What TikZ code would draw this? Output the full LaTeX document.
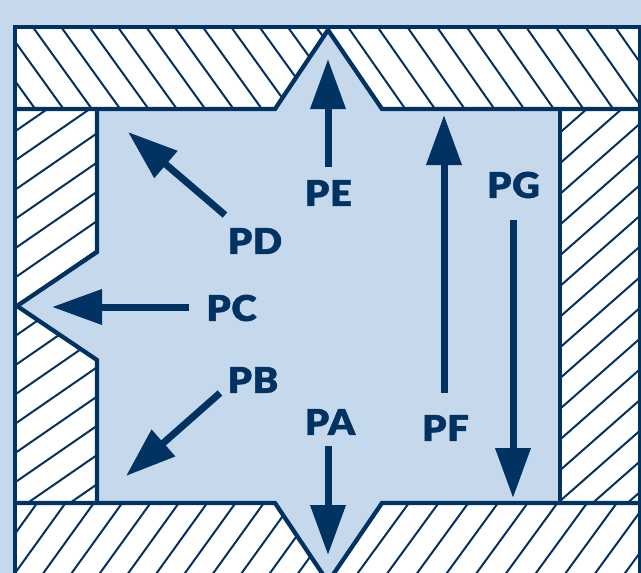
\documentclass[tikz,border=0pt]{standalone}
\usepackage{fontspec}
\newfontfamily\labfont[LetterSpace=2,FakeStretch=1.08,FakeBold=1.2]{Lato Black}
\usetikzlibrary{arrows.meta}
\definecolor{bgblue}{HTML}{C6D9EC}
\definecolor{navy}{HTML}{003262}
\tikzset{
  hatchline/.style={draw=navy,line width=2pt},
  wall/.style={draw=navy,line width=4.3pt,line join=miter},
  force/.style={draw=navy,line width=7pt,-{Triangle[length=50pt,width=34pt,fill=navy]}},
  lab/.style={text=navy,font=\fontsize{35.5}{36}\labfont,inner sep=0pt,anchor=center}
}
\begin{document}
\begin{tikzpicture}[x=1pt,y=-1pt]
\useasboundingbox (0,0) rectangle (641,573);
\clip (0,0) rectangle (641,573);
\fill[bgblue] (0,0) rectangle (641,573);
% solid body
\fill[white] (15,27) rectangle (641,573);
\fill[bgblue] (97,109) -- (275,109) -- (328,30) -- (382,109) -- (560,109) -- (560,503) -- (382,503) -- (328,582) -- (275,503) -- (97,503) -- (97,360) -- (17,306) -- (97,252) -- cycle;
% hatching: top band, left of the notch
\begin{scope}
\clip (15,27) -- (328,27) -- (275,109) -- (15,109) -- cycle;
\foreach \k in {-3,...,11} \draw[hatchline] ({35+28.33*\k-2.16},27) -- ({35+28.33*\k+57.6},110);
\end{scope}
% top band, right of the notch
\begin{scope}
\clip (328,27) -- (641,27) -- (641,109) -- (382,109) -- cycle;
\foreach \k in {-1,...,10} \draw[hatchline] ({350+29.7*\k-2.1},27) -- ({350+29.7*\k+56},110);
\end{scope}
% left wall
\begin{scope}
\clip (15,109) -- (97,109) -- (97,252) -- (17,306) -- (97,360) -- (97,503) -- (15,503) -- cycle;
\foreach \k in {-1,...,14} \draw[hatchline] (15,{130+29.25*\k+1.4}) -- (100,{130+29.25*\k-57.3});
\end{scope}
% right wall
\begin{scope}
\clip (560,109) rectangle (641,503);
\foreach \k in {-1,...,15} \draw[hatchline] (560,{130+30.7*\k+2.6}) -- (645,{130+30.7*\k-72.2});
\end{scope}
% bottom band, left of the notch
\begin{scope}
\clip (15,503) -- (275,503) -- (328,582) -- (328,590) -- (15,590) -- cycle;
\foreach \k in {-1,...,13} \draw[hatchline] ({35+28.33*\k+2.2},503) -- ({35+28.33*\k-60.5},590);
\end{scope}
% bottom band, right of the notch
\begin{scope}
\clip (382,503) -- (641,503) -- (641,590) -- (328,590) -- (328,582) -- cycle;
\foreach \k in {-1,...,10} \draw[hatchline] ({406.7+29.7*\k+2.2},503) -- ({406.7+29.7*\k-61.3},590);
\end{scope}
% outlines
\draw[wall] (15,600) -- (15,27) -- (640,27) -- (640,600);
\draw[wall] (15,109) -- (275,109) -- (328,30) -- (382,109) -- (640,109);
\draw[wall] (15,503) -- (275,503) -- (328,582);
\draw[wall] (328,582) -- (382,503) -- (640,503);
\draw[wall] (97,109) -- (97,252) -- (17,306) -- (97,360) -- (97,503);
\draw[wall] (560,109) -- (560,503);
% labels
\node[lab] (pa) at (330,422) {PA};
\node[lab] (pb) at (253,380) {PB};
\node[lab] (pc) at (231.5,308) {PC};
\node[lab] (pd) at (255,241) {PD};
\node[lab] (pe) at (328.5,193) {PE};
\node[lab] (pf) at (445.5,428) {PF};
\node[lab] (pg) at (513.5,185) {PG};
% arrow ends
\coordinate (ta) at (328,446); \coordinate (ha) at (328,555);
\coordinate (tb) at (220,393); \coordinate (hb) at (126,476);
\coordinate (tc) at (189,307); \coordinate (hc) at (52,307);
\coordinate (td) at (225,215); \coordinate (hd) at (128,132);
\coordinate (te) at (328,167); \coordinate (he) at (328,59);
\coordinate (tf) at (444,393); \coordinate (hf) at (444,115);
\coordinate (tg) at (513,220); \coordinate (hg) at (513,498);
\foreach \t/\h in {ta/ha,tb/hb,tc/hc,td/hd,te/he,tf/hf,tg/hg}
  \draw[force] (\t) -- (\h);
\end{tikzpicture}
\end{document}
